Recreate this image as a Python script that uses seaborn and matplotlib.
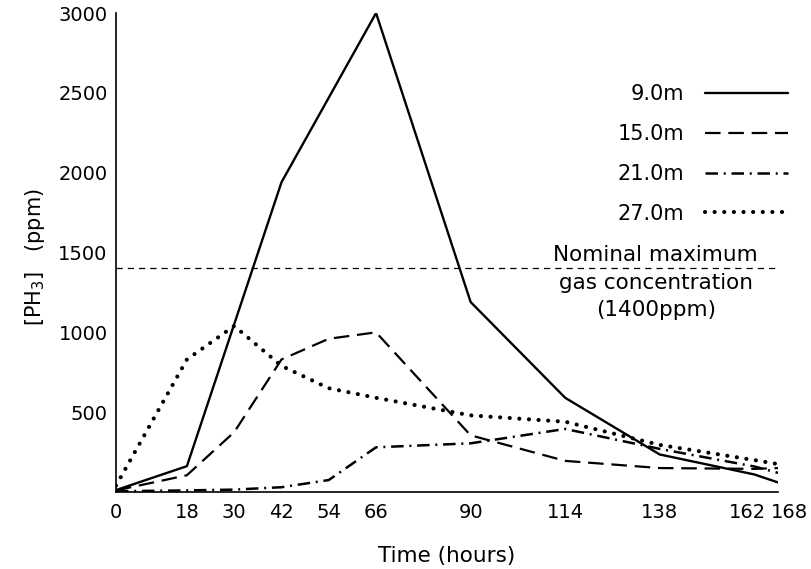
import matplotlib
matplotlib.use("Agg")
import matplotlib.pyplot as plt
import matplotlib.transforms as mtransforms
import seaborn as sns
import pandas as pd

# ---- data ----
hours_9 = [0, 18, 42, 66, 90, 114, 138, 162, 168]
ppm_9 = [12, 162, 1940, 3000, 1190, 590, 235, 110, 60]

hours_15 = [0, 18, 30, 42, 54, 66, 90, 114, 138, 162, 168]
ppm_15 = [10, 105, 375, 830, 960, 1000, 355, 195, 150, 145, 150]

hours_21 = [0, 18, 30, 42, 54, 66, 90, 114, 138, 162, 168]
ppm_21 = [5, 10, 15, 30, 75, 280, 305, 395, 270, 160, 120]

hours_27 = [0, 18, 30, 42, 54, 66, 90, 114, 138, 162, 168]
ppm_27 = [40, 830, 1040, 790, 650, 590, 480, 440, 295, 200, 175]

depth_labels = ["9.0m", "15.0m", "21.0m", "27.0m"]
x_ticks = [0, 18, 30, 42, 54, 66, 90, 114, 138, 162, 168]
y_ticks = [500, 1000, 1500, 2000, 2500, 3000]
nominal_max = 1400
nominal_text = "Nominal maximum\ngas concentration\n(1400ppm)"

sns.set_theme(style="white")
plt.rcParams["font.family"] = ["DejaVu Sans"]
plt.rcParams["mathtext.fontset"] = "dejavusans"
plt.rcParams["text.color"] = "black"
plt.rcParams["axes.labelcolor"] = "black"

fig = plt.figure(figsize=(8.11, 5.69), dpi=100)
ax = fig.add_axes([0.1430, 0.1353, 0.8163, 0.8418])

styles = [
    dict(linestyle="-", linewidth=1.7),
    dict(linestyle=(0, (7, 3.5)), linewidth=1.6),
    dict(linestyle=(0, (5, 2.3, 0.8, 2.3)), linewidth=1.8),
    dict(linestyle=(0, (0.01, 2.3)), linewidth=3.0, dash_capstyle="round"),
]
series = [(hours_9, ppm_9), (hours_15, ppm_15), (hours_21, ppm_21), (hours_27, ppm_27)]

for (hx, vy), lab, st in zip(series, depth_labels, styles):
    df = pd.DataFrame({"Time": hx, "ppm": vy})
    sns.lineplot(data=df, x="Time", y="ppm", ax=ax, color="black",
                 label=lab, **st)

ax.axhline(nominal_max, color="black", linewidth=0.9, linestyle=(0, (5, 4)))

ax.set_xlim(0, 168)
ax.set_ylim(0, 3000)
ax.set_xticks(x_ticks)
ax.set_xticklabels([str(t) for t in x_ticks])
ax.set_yticks(y_ticks)
ax.set_yticklabels([str(t) for t in y_ticks])

for s in ["top", "right"]:
    ax.spines[s].set_visible(False)
for s in ["left", "bottom"]:
    ax.spines[s].set_color("black")
    ax.spines[s].set_linewidth(1.2)

ax.tick_params(axis="both", direction="in", length=9, width=1.1, colors="black",
               labelsize=14)
ax.tick_params(axis="x", pad=8)
ax.tick_params(axis="y", pad=6)

# nudge the crowded last two x labels apart, as in the reference
ticks = ax.xaxis.get_major_ticks()
for idx, dx in [(len(x_ticks) - 2, -5), (len(x_ticks) - 1, 8)]:
    lbl = ticks[idx].label1
    lbl.set_transform(lbl.get_transform() +
                      mtransforms.ScaledTranslation(dx / 72, 0, fig.dpi_scale_trans))

ax.set_xlabel("Time (hours)", fontsize=15.5, labelpad=17, color="black")
ax.set_ylabel(r"$\left[\mathrm{PH}_3\right]$   (ppm)", fontsize=15, color="black")
ax.yaxis.set_label_coords(-0.104, 0.49)

ax.text(137, 1545, nominal_text, ha="center", va="top", fontsize=15.5,
        linespacing=1.45, color="black")

leg = ax.legend(loc="upper right", bbox_to_anchor=(0.972, 0.852),
                bbox_transform=fig.transFigure, frameon=False,
                markerfirst=False, fontsize=15, handlelength=4.0,
                handletextpad=1.0, labelspacing=0.95, borderpad=0,
                borderaxespad=0, alignment="right", labelcolor="black")

fig.savefig("out.png", dpi=100, facecolor="white")
